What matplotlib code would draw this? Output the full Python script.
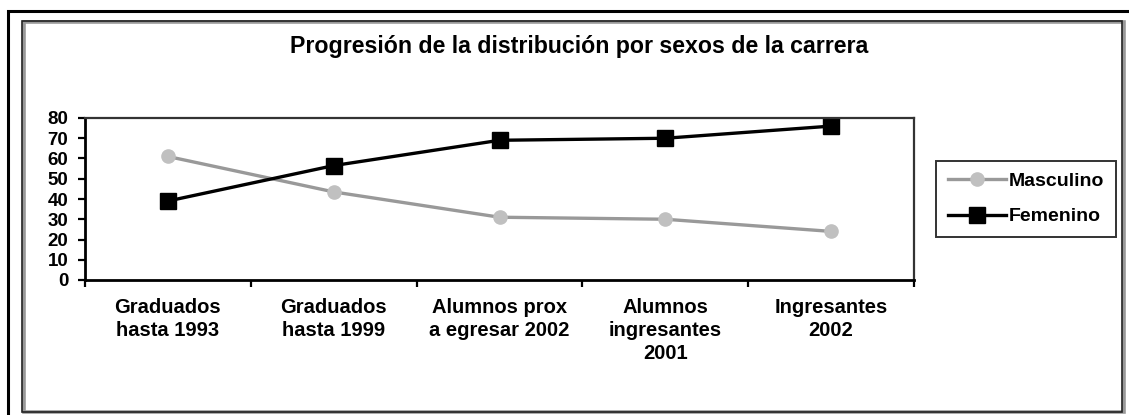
import numpy as np
import matplotlib.pyplot as plt
from matplotlib.patches import Rectangle

categorias = ['Graduados\nhasta 1993', 'Graduados\nhasta 1999',
              'Alumnos prox\na egresar 2002', 'Alumnos\ningresantes\n2001',
              'Ingresantes\n2002']
masculino = [61, 43.5, 31, 30, 24]
femenino = [39, 56.5, 69, 70, 76]
yticks = [0, 10, 20, 30, 40, 50, 60, 70, 80]

plt.rcParams['font.family'] = ['Liberation Sans', 'DejaVu Sans']
plt.rcParams['font.weight'] = 'bold'

W, H = 1129, 415
fig = plt.figure(figsize=(W / 100, H / 100), dpi=100)

# marcos exteriores
fig.add_artist(Rectangle((8 / W, -0.1), 1.2, 1 - 11 / H + 0.1, transform=fig.transFigure,
                         fill=False, edgecolor='black', linewidth=2.2))
fig.add_artist(Rectangle((24 / W, 3 / H), (1124 - 24) / W, (412 - 22) / H,
                         transform=fig.transFigure, fill=False,
                         edgecolor='#999999', linewidth=2.6))
fig.add_artist(Rectangle((22 / W, 3 / H), (1122 - 22) / W, (412 - 21) / H,
                         transform=fig.transFigure, fill=False,
                         edgecolor='#222222', linewidth=1.2))

ax = fig.add_axes([85 / W, 1 - 280 / H, (914 - 85) / W, (280 - 118) / H])
x = np.arange(len(categorias))
l1, = ax.plot(x, masculino, color='#999999', linewidth=2.4, marker='o',
              markersize=9.5, markerfacecolor='#C0C0C0', markeredgecolor='#C0C0C0',
              label='Masculino', clip_on=False)
l2, = ax.plot(x, femenino, color='black', linewidth=2.4, marker='s',
              markersize=11.5, markerfacecolor='black', markeredgecolor='black',
              label='Femenino', clip_on=False)

ax.set_xlim(-0.5, len(categorias) - 0.5)
ax.set_ylim(0, 80)
ax.set_yticks(yticks)
ax.set_yticklabels([str(v) for v in yticks], fontsize=13.5, fontweight='bold')
ax.set_xticks(np.arange(-0.5, len(categorias), 1.0))
ax.set_xticklabels([])
ax.set_xticks(x, minor=True)
ax.set_xticklabels(categorias, minor=True, fontsize=14.5, fontweight='bold',
                   linespacing=1.25, va='top')
ax.tick_params(axis='x', which='minor', length=0, pad=13)
ax.tick_params(axis='x', which='major', length=5, width=1.6, direction='out')
ax.tick_params(axis='y', length=5, width=1.6, direction='out', pad=7)

for s in ['left', 'bottom']:
    ax.spines[s].set_linewidth(2)
    ax.spines[s].set_color('black')
for s in ['top', 'right']:
    ax.spines[s].set_linewidth(1.6)
    ax.spines[s].set_color('#333333')

fig.text(579 / W, 1 - 47 / H, 'Progresión de la distribución por sexos de la carrera',
         ha='center', va='center', fontsize=16.7, fontweight='bold')

leg = fig.legend(handles=[l1, l2], loc='center', bbox_to_anchor=(1026 / W, 1 - 199 / H),
                 fontsize=14, frameon=True, fancybox=False, edgecolor='black',
                 handlelength=3.0, handletextpad=0.15, labelspacing=0.9,
                 borderpad=0.6, borderaxespad=0)
leg.get_frame().set_linewidth(1.4)

fig.savefig('out.png', dpi=100)
